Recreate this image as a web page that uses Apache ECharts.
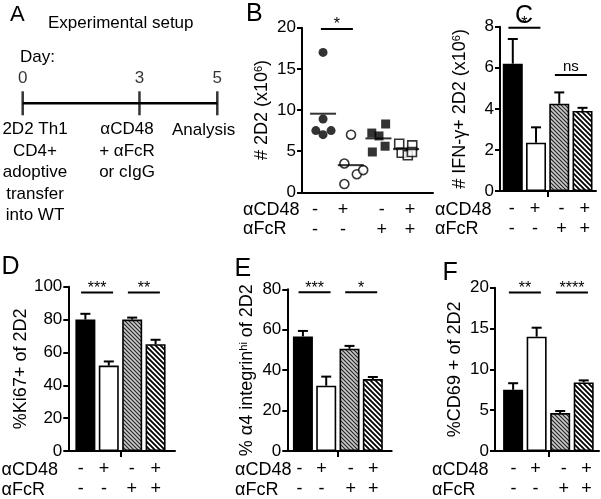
<!DOCTYPE html>
<html><head><meta charset="utf-8">
<script src="https://cdn.jsdelivr.net/npm/echarts@6/dist/echarts.min.js"></script>
<style>html,body{margin:0;padding:0;background:#fff}#c{width:601px;height:499px}</style>
</head><body><div id="c"></div>
<script>
// ---------------- data ----------------
const timelineDays = [0, 3, 5];
const cd48Signs = ['-', '+', '-', '+'];
const fcrSigns  = ['-', '-', '+', '+'];

// Panel B: individual mice (# 2D2 x10^6)
const bTicks = [0, 5, 10, 15, 20];
const bGroup1 = [17, 8.9, 7.5, 7.5, 7.0];
const bJitter1 = [0, 0, -0.26, 0.29, 0];
const bGroup2 = [7.0, 3.5, 2.2, 2.7, 1.0];
const bJitter2 = [0.01, -0.23, 0.22, 0.45, -0.23];
const bGroup3 = [7.2, 8.3, 6.85, 5.6, 4.9];
const bJitter3 = [-0.24, 0.26, 0.02, 0.24, -0.22];
const bGroup4 = [5.9, 5.7, 4.8, 4.5, 4.9];
const bJitter4 = [-0.25, 0.22, -0.16, 0.06, 0.21];
const bMeans = [9.55, 3.3, 6.55, 5.25];
const bSig = [[0, 1, 19.85]];
const bSigText = ['*'];

// Panel C: # IFN-g+ 2D2
const cTicks = [0, 2, 4, 6, 8];
const cMeans = [6.2, 2.35, 4.25, 3.9];
const cUpper = [7.4, 3.1, 4.8, 4.05];
const cSig = [[0, 1, 7.95], [2, 3, 5.65]];
const cSigText = ['*', 'ns'];

// Panel D: %Ki67+
const dTicks = [0, 20, 40, 60, 80, 100];
const dMeans = [80, 52, 80, 65];
const dUpper = [83.5, 54.5, 81.2, 67.7];
const dSig = [[0, 1, 96.4], [2, 3, 96.4]];
const dSigText = ['***', '**'];

// Panel E: % a4 integrin hi
const eTicks = [0, 20, 40, 60, 80];
const eMeans = [56.7, 32.3, 50.6, 35.6];
const eUpper = [59.4, 36.8, 52, 36.6];
const eSig = [[0, 1, 78.5], [2, 3, 78.5]];
const eSigText = ['***', '*'];

// Panel F: %CD69+
const fTicks = [0, 5, 10, 15, 20];
const fMeans = [7.5, 14, 4.65, 8.4];
const fUpper = [8.3, 15.1, 4.9, 8.65];
const fSig = [[0, 1, 19.4], [2, 3, 19.4]];
const fSigText = ['**', '****'];

// ---------------- layout / styles ----------------
const FONT = '"Liberation Sans", Arial, Helvetica, sans-serif';
function hatch(size, bg, fg, lw) {
  const c = document.createElement('canvas'); c.width = c.height = size;
  const g = c.getContext('2d'); g.fillStyle = bg; g.fillRect(0, 0, size, size);
  g.strokeStyle = fg; g.lineWidth = lw; g.beginPath();
  g.moveTo(-2, -2); g.lineTo(size + 2, size + 2);
  g.moveTo(size - 3, -3); g.lineTo(size + 3, 3);
  g.moveTo(-3, size - 3); g.lineTo(3, size + 3);
  g.stroke();
  return { image: c, repeat: 'repeat' };
}
const barFills = ['#000', '#fff', hatch(4, '#c8c8c8', '#222', 1.1), hatch(5, '#fff', '#000', 1.8)];

const grids = [
  { left: 22.7, top: 92, width: 194.6, height: 22.6 },   // A
  { left: 302, top: 27.7, width: 131, height: 164.6 },   // B
  { left: 500, top: 26.7, width: 96, height: 164.3 },    // C
  { left: 68.3, top: 286.7, width: 106.7, height: 165 }, // D
  { left: 287.3, top: 289.3, width: 104.4, height: 162.4 }, // E
  { left: 495, top: 287.7, width: 104, height: 164.6 }   // F
];
const xRanges = [[0, 5], [-0.76, 3.97], [-0.55, 3.58], [-0.73, 3.83], [-0.67, 3.81], [-0.77, 3.65]];
// where GraphPad placed the -/+ treatment labels along each x axis
const signSpots = [null, [-0.29, 0.72, 2.12, 3.14], [-0.05, 0.96, 2.1, 3.1], [-0.2, 0.8, 1.98, 3.01],
  [-0.15, 0.8, 2.05, 3.02], [0.02, 0.95, 2.15, 3.12]];

const xAxes = [], yAxes = [], series = [];

// Panel A
xAxes.push({ gridIndex: 0, type: 'value', min: 0, max: 5, show: false });
yAxes.push({ gridIndex: 0, type: 'value', min: -1, max: 1, show: false });
series.push({ type: 'line', xAxisIndex: 0, yAxisIndex: 0, data: timelineDays.map(d => [d, 0]),
  symbol: 'none', lineStyle: { color: '#000', width: 2.6 }, silent: true });
series.push({ type: 'scatter', xAxisIndex: 0, yAxisIndex: 0, data: timelineDays.map(d => [d, 0]),
  symbol: 'rect', symbolSize: [2.5, 24], itemStyle: { color: '#000' },
  label: { show: true, position: 'top', distance: 4, formatter: p => String(p.value[0]),
    fontSize: 17, fontFamily: FONT, color: '#000' } });

const yNames = [null,
  '# 2D2 (x10{s|6})',
  '# IFN-γ+ 2D2 (x10{s|6})',
  '%Ki67+ of 2D2',
  '% α4 integrin{s|hi} of 2D2',
  '%CD69 + of 2D2'];
const yTickSets = [null, bTicks, cTicks, dTicks, eTicks, fTicks];

for (let k = 1; k <= 5; k++) {
  const t = yTickSets[k];
  const spots = signSpots[k];
  xAxes.push({
    gridIndex: k, type: 'value', min: xRanges[k][0], max: xRanges[k][1],
    splitLine: { show: false },
    axisLine: { show: true, onZero: false, lineStyle: { color: '#000', width: 2 } },
    axisTick: k === 1 ? { show: false } : { show: true, customValues: [1.5], length: 6, lineStyle: { color: '#000', width: 2 } },
    axisLabel: { show: true, customValues: spots, margin: 8,
      formatter: v => { const i = spots.indexOf(v) >= 0 ? spots.indexOf(v) : Math.max(0, Math.min(3, Math.round(v)));
        return cd48Signs[i] + '\n' + fcrSigns[i]; },
      fontSize: 18, lineHeight: 20, fontFamily: FONT, color: '#000' }
  });
  yAxes.push({
    gridIndex: k, type: 'value', min: t[0], max: t[t.length - 1], interval: t[1] - t[0],
    splitLine: { show: false },
    axisLine: { show: true, onZero: false, lineStyle: { color: '#000', width: 2 } },
    axisTick: { show: true, length: 5, lineStyle: { color: '#000', width: 2 } },
    axisLabel: { fontSize: 17, fontFamily: FONT, color: '#000', margin: 6 },
    name: yNames[k], nameLocation: 'middle', nameGap: 31,
    nameTextStyle: { fontSize: 18, fontFamily: FONT, color: '#000',
      rich: { s: { fontSize: 11, fontFamily: FONT, color: '#000', verticalAlign: 'top', lineHeight: 18 } } }
  });
}

// Panel B scatter
const bGroups = [bGroup1, bGroup2, bGroup3, bGroup4];
const bJit = [bJitter1, bJitter2, bJitter3, bJitter4];
const bSym = [
  { symbol: 'circle', itemStyle: { color: '#000' } },
  { symbol: 'circle', itemStyle: { color: '#fff', borderColor: '#000', borderWidth: 1.6 } },
  { symbol: 'rect', itemStyle: { color: '#000' } },
  { symbol: 'rect', itemStyle: { color: '#fff', borderColor: '#000', borderWidth: 1.6 } }
];
bGroups.forEach((g, gi) => {
  series.push(Object.assign({ type: 'scatter', xAxisIndex: 1, yAxisIndex: 1, symbolSize: 9,
    data: g.map((v, i) => [gi + bJit[gi][i], v]), z: 2 }, bSym[gi]));
});
series.push({ type: 'scatter', xAxisIndex: 1, yAxisIndex: 1, symbol: 'rect', symbolSize: [26, 2],
  itemStyle: { color: '#000' }, data: bMeans.map((v, i) => [i, v]), z: 5 });

function sigSeries(k, sig, texts) {
  return { type: 'custom', xAxisIndex: k, yAxisIndex: k, data: sig, z: 6, clip: false,
    renderItem: (params, api) => {
      const a = api.value(0), b = api.value(1), y = api.value(2);
      const p = api.coord([(a + b) / 2, y]);
      const hw = 16;
      const txt = texts[params.dataIndex];
      return { type: 'group', children: [
        { type: 'line', shape: { x1: p[0] - hw, y1: p[1], x2: p[0] + hw, y2: p[1] }, style: { stroke: '#000', lineWidth: 2 } },
        { type: 'text', x: p[0], y: txt === 'ns' ? p[1] - 1 : p[1] + 4,
          style: { text: txt, fill: '#000', fontSize: txt === 'ns' ? 15 : 16, fontFamily: FONT, align: 'center', verticalAlign: 'bottom' } }
      ] };
    } };
}
series.push(sigSeries(1, bSig, bSigText));

// Bar panels
const barSets = [null, null, [cMeans, cUpper, cSig, cSigText], [dMeans, dUpper, dSig, dSigText],
  [eMeans, eUpper, eSig, eSigText], [fMeans, fUpper, fSig, fSigText]];
for (let k = 2; k <= 5; k++) {
  const [m, up, sig, st] = barSets[k];
  series.push({ type: 'bar', xAxisIndex: k, yAxisIndex: k, barWidth: 20,
    data: m.map((v, i) => ({ value: [i, v], itemStyle: { color: barFills[i], borderColor: '#000', borderWidth: 1.6 } })) });
  series.push({ type: 'custom', xAxisIndex: k, yAxisIndex: k, z: 4,
    data: m.map((v, i) => [i, v, up[i]]),
    renderItem: (params, api) => {
      const p0 = api.coord([api.value(0), api.value(1)]);
      const p1 = api.coord([api.value(0), api.value(2)]);
      const hw = 5;
      return { type: 'group', children: [
        { type: 'line', shape: { x1: p0[0], y1: p0[1], x2: p1[0], y2: p1[1] }, style: { stroke: '#000', lineWidth: 2 } },
        { type: 'line', shape: { x1: p1[0] - hw, y1: p1[1], x2: p1[0] + hw, y2: p1[1] }, style: { stroke: '#000', lineWidth: 2 } }
      ] };
    } });
  series.push(sigSeries(k, sig, st));
}

function txt(x, y, text, size, align, extra) {
  return { type: 'text', x: x, y: y, style: Object.assign({ text: text, fontSize: size, fontFamily: FONT, fill: '#000',
    align: align || 'left', verticalAlign: 'middle' }, extra || {}) };
}
const graphics = [
  txt(10, 15, 'A', 22), txt(246, 14, 'B', 25), txt(515, 16, 'C', 25),
  txt(1.5, 267, 'D', 25), txt(234.5, 269, 'E', 25), txt(442.5, 273, 'F', 25),
  txt(48, 23, 'Experimental setup', 17),
  txt(20, 57, 'Day:', 17),
  txt(35, 119, '2D2 Th1\nCD4+\nadoptive\ntransfer\ninto WT', 17, 'center', { verticalAlign: 'top', lineHeight: 21.5 }),
  txt(127, 119, 'αCD48\n+ αFcR\nor cIgG', 17, 'center', { verticalAlign: 'top', lineHeight: 21.5 }),
  txt(172, 130, 'Analysis', 17),
  txt(243, 210, 'αCD48', 18), txt(243, 229.5, 'αFcR', 18),
  txt(435, 210, 'αCD48', 18), txt(435, 229.5, 'αFcR', 18),
  txt(1.5, 470, 'αCD48', 18), txt(1.5, 490, 'αFcR', 18),
  txt(235, 470, 'αCD48', 18), txt(235, 490, 'αFcR', 18),
  txt(432, 470, 'αCD48', 18), txt(432, 490, 'αFcR', 18)
];

const chart = echarts.init(document.getElementById('c'), null, { renderer: 'canvas' });
chart.setOption({
  animation: false,
  backgroundColor: '#fff',
  textStyle: { fontFamily: FONT },
  grid: grids,
  xAxis: xAxes,
  yAxis: yAxes,
  series: series,
  graphic: graphics
});
</script></body></html>
